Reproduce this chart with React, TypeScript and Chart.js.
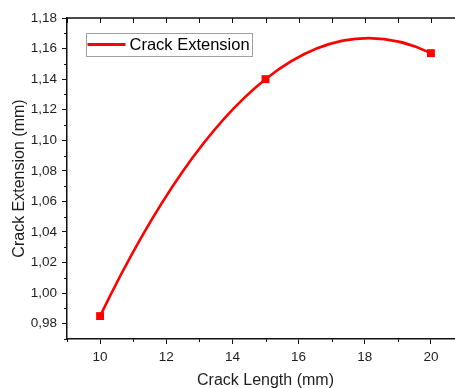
import React, { useEffect, useRef } from 'react';
import { Chart, registerables } from 'chart.js';

Chart.register(...registerables);

// ---- data ----
const crackLength = [10, 15, 20];
const crackExtension = [0.985, 1.14, 1.157];
const seriesLabel = 'Crack Extension';
const xTitle = 'Crack Length (mm)';
const yTitle = 'Crack Extension (mm)';
const xMin = 9;
const xMax = 21;
const xStep = 1;
const yMin = 0.97;
const yMax = 1.18;
const yStep = 0.01;

const RED = '#ff0000';
const AXIS = '#111111';
const TEXT = '#1e1e1e';
const FONT = "Arial, 'Liberation Sans', sans-serif";

// Polynomial through all data points (Origin-style spline through 3 points = parabola)
function lagrangeValue(xs: number[], ys: number[], x: number) {
  let s = 0;
  for (let i = 0; i < xs.length; i++) {
    let l = 1;
    for (let j = 0; j < xs.length; j++) if (j !== i) l *= (x - xs[j]) / (xs[i] - xs[j]);
    s += ys[i] * l;
  }
  return s;
}
function lagrangeDeriv(xs: number[], ys: number[], x: number) {
  let s = 0;
  for (let i = 0; i < xs.length; i++) {
    let d = 0;
    for (let j = 0; j < xs.length; j++) {
      if (j === i) continue;
      let p = 1 / (xs[i] - xs[j]);
      for (let k = 0; k < xs.length; k++) {
        if (k === i || k === j) continue;
        p *= (x - xs[k]) / (xs[i] - xs[k]);
      }
      d += p;
    }
    s += ys[i] * d;
  }
  return s;
}

const isMajorX = (v: number) => Math.round(v) % 2 === 0;
const isMajorY = (v: number) => Math.round(v * 100) % 2 === 0;

const curvePlugin = {
  id: 'curvePlugin',
  beforeDatasetsDraw(chart: any) {
    const { ctx, scales } = chart;
    const xs = scales.x;
    const ys = scales.y;
    const X = crackLength;
    const Y = crackExtension;
    ctx.save();
    ctx.strokeStyle = RED;
    ctx.lineWidth = 2.6;
    ctx.lineJoin = 'round';
    ctx.lineCap = 'round';
    ctx.beginPath();
    ctx.moveTo(xs.getPixelForValue(X[0]), ys.getPixelForValue(lagrangeValue(X, Y, X[0])));
    for (let i = 0; i < X.length - 1; i++) {
      const x0 = X[i];
      const x1 = X[i + 1];
      const h = x1 - x0;
      const y0 = lagrangeValue(X, Y, x0);
      const y1 = lagrangeValue(X, Y, x1);
      const d0 = lagrangeDeriv(X, Y, x0);
      const d1 = lagrangeDeriv(X, Y, x1);
      ctx.bezierCurveTo(
        xs.getPixelForValue(x0 + h / 3), ys.getPixelForValue(y0 + (d0 * h) / 3),
        xs.getPixelForValue(x1 - h / 3), ys.getPixelForValue(y1 - (d1 * h) / 3),
        xs.getPixelForValue(x1), ys.getPixelForValue(y1)
      );
    }
    ctx.stroke();
    ctx.restore();
  },
};

const framePlugin = {
  id: 'framePlugin',
  afterDraw(chart: any) {
    const { ctx, chartArea, scales } = chart;
    const xs = scales.x;
    const ys = scales.y;
    ctx.save();
    ctx.strokeStyle = AXIS;
    ctx.lineWidth = 1.5;
    ctx.beginPath();
    ctx.moveTo(chartArea.left, chartArea.top);
    ctx.lineTo(chartArea.right, chartArea.top);
    ctx.stroke();
    ctx.beginPath();
    ctx.moveTo(chartArea.right, chartArea.top);
    ctx.lineTo(chartArea.right, chartArea.bottom);
    ctx.stroke();
    ctx.lineWidth = 1;
    xs.ticks.forEach((t: any) => {
      const px = Math.round(xs.getPixelForValue(t.value)) + 0.5;
      ctx.beginPath();
      ctx.moveTo(px, chartArea.top);
      ctx.lineTo(px, chartArea.top + 5);
      ctx.stroke();
    });
    xs.ticks.forEach((t: any) => {
      if (isMajorX(t.value)) return;
      const px = Math.round(xs.getPixelForValue(t.value)) + 0.5;
      ctx.beginPath();
      ctx.moveTo(px, chartArea.bottom);
      ctx.lineTo(px, chartArea.bottom + 3);
      ctx.stroke();
    });
    ys.ticks.forEach((t: any) => {
      if (isMajorY(t.value)) return;
      const py = Math.round(ys.getPixelForValue(t.value)) + 0.5;
      ctx.beginPath();
      ctx.moveTo(chartArea.left - 3, py);
      ctx.lineTo(chartArea.left, py);
      ctx.stroke();
    });
    ctx.restore();
  },
};

const legendPlugin = {
  id: 'legendPlugin',
  afterDatasetsDraw(chart: any) {
    const { ctx, chartArea } = chart;
    const label = chart.data.datasets[0].label;
    const bx = chartArea.left + 19;
    const by = chartArea.top + 15;
    const bw = 166;
    const bh = 23;
    ctx.save();
    ctx.fillStyle = '#ffffff';
    ctx.fillRect(bx, by, bw, bh);
    ctx.strokeStyle = '#a0a0a0';
    ctx.lineWidth = 1;
    ctx.strokeRect(Math.round(bx) + 0.5, Math.round(by) + 0.5, bw, bh);
    const my = by + bh / 2;
    ctx.strokeStyle = RED;
    ctx.lineWidth = 2.8;
    ctx.beginPath();
    ctx.moveTo(bx + 1.5, my);
    ctx.lineTo(bx + 39.5, my);
    ctx.stroke();
    ctx.fillStyle = '#000000';
    ctx.font = `16.5px ${FONT}`;
    ctx.textBaseline = 'middle';
    ctx.textAlign = 'left';
    ctx.fillText(label, bx + 43.5, my + 1);
    ctx.restore();
  },
};

export default function App() {
  const ref = useRef<HTMLCanvasElement | null>(null);
  useEffect(() => {
    if (!ref.current) return;
    const chart = new Chart(ref.current, {
      type: 'scatter',
      data: {
        datasets: [
          {
            label: seriesLabel,
            data: crackLength.map((x, i) => ({ x, y: crackExtension[i] })),
            showLine: false,
            pointStyle: 'rect',
            pointRadius: 5.6,
            pointHoverRadius: 5.6,
            backgroundColor: RED,
            borderColor: RED,
            borderWidth: 0,
          },
        ],
      },
      options: {
        animation: false,
        responsive: false,
        maintainAspectRatio: false,
        devicePixelRatio: 1,
        layout: { padding: { top: 18, right: 16, left: 0, bottom: 0 } },
        plugins: { legend: { display: false }, tooltip: { enabled: false } },
        scales: {
          x: {
            type: 'linear',
            position: 'bottom',
            min: xMin,
            max: xMax,
            afterFit: (s: any) => { s.height = 49; },
            ticks: {
              stepSize: xStep,
              autoSkip: false,
              maxRotation: 0,
              padding: 5,
              color: TEXT,
              font: { family: FONT, size: 13.5 },
              callback: (v: any) => (isMajorX(Number(v)) ? String(Math.round(Number(v))) : ''),
            },
            grid: {
              display: true,
              drawOnChartArea: false,
              tickLength: 5,
              tickWidth: 1,
              tickColor: (c: any) => (c.tick && isMajorX(c.tick.value) ? AXIS : 'rgba(0,0,0,0)'),
            },
            border: { display: true, color: AXIS, width: 1.5 },
            title: {
              display: true,
              text: xTitle,
              color: TEXT,
              font: { family: FONT, size: 16 },
              padding: { top: 0, bottom: -2 },
            },
          },
          y: {
            type: 'linear',
            position: 'left',
            min: yMin,
            max: yMax,
            afterFit: (s: any) => { s.width = 67; },
            ticks: {
              stepSize: yStep,
              autoSkip: false,
              padding: 5,
              color: TEXT,
              font: { family: FONT, size: 13.5 },
              callback: (v: any) => (isMajorY(Number(v)) ? Number(v).toFixed(2).replace('.', ',') : ''),
            },
            grid: {
              display: true,
              drawOnChartArea: false,
              tickLength: 5,
              tickWidth: 1,
              tickColor: (c: any) => (c.tick && isMajorY(c.tick.value) ? AXIS : 'rgba(0,0,0,0)'),
            },
            border: { display: true, color: AXIS, width: 1.5 },
            title: {
              display: true,
              text: yTitle,
              color: TEXT,
              font: { family: FONT, size: 16 },
              padding: { top: 10, bottom: 0 },
            },
          },
        },
      },
      plugins: [curvePlugin, framePlugin, legendPlugin],
    } as any);
    return () => chart.destroy();
  }, []);
  return (
    <div style={{ position: 'fixed', left: 0, top: 0, width: 455, height: 388, overflow: 'hidden', background: '#ffffff' }}>
      <canvas ref={ref} width={480} height={388} style={{ display: 'block' }} />
    </div>
  );
}
